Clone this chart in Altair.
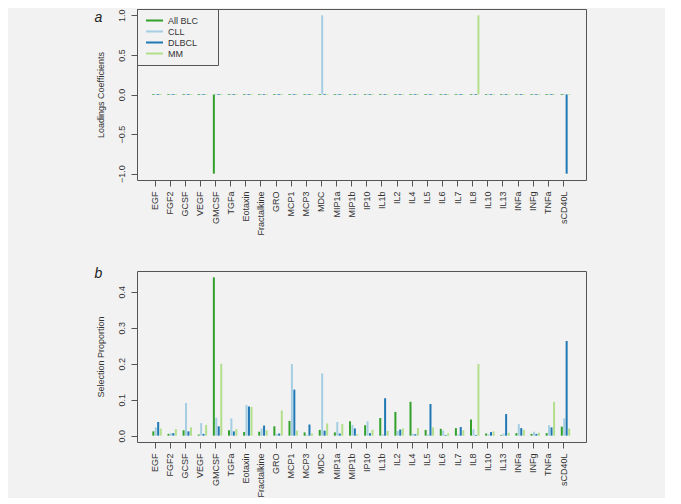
import altair as alt
import pandas as pd

categories = ["EGF", "FGF2", "GCSF", "VEGF", "GMCSF", "TGFa", "Eotaxin", "Fractalkine",
              "GRO", "MCP1", "MCP3", "MDC", "MIP1a", "MIP1b", "IP10", "IL1b", "IL2",
              "IL4", "IL5", "IL6", "IL7", "IL8", "IL10", "IL13", "INFa", "INFg",
              "TNFa", "sCD40L"]
series = ["All BLC", "CLL", "DLBCL", "MM"]

# Panel a: loadings coefficients
load_allblc = [0, 0, 0, 0, -1, 0, 0, 0, 0, 0, 0, 0, 0, 0, 0, 0, 0, 0, 0, 0, 0, 0, 0, 0, 0, 0, 0, 0]
load_cll    = [0, 0, 0, 0, 0, 0, 0, 0, 0, 0, 0, 1, 0, 0, 0, 0, 0, 0, 0, 0, 0, 0, 0, 0, 0, 0, 0, 0]
load_dlbcl  = [0, 0, 0, 0, 0, 0, 0, 0, 0, 0, 0, 0, 0, 0, 0, 0, 0, 0, 0, 0, 0, 0, 0, 0, 0, 0, 0, -1]
load_mm     = [0, 0, 0, 0, 0, 0, 0, 0, 0, 0, 0, 0, 0, 0, 0, 0, 0, 0, 0, 0, 0, 1, 0, 0, 0, 0, 0, 0]

# Panel b: selection proportion
sel_allblc = [0.012, 0.005, 0.015, 0.003, 0.440, 0.015, 0.010, 0.011, 0.026, 0.041, 0.009, 0.016,
              0.009, 0.040, 0.029, 0.049, 0.066, 0.094, 0.016, 0.019, 0.021, 0.045, 0.006, 0.002,
              0.007, 0.005, 0.007, 0.025]
sel_cll    = [0.023, 0.007, 0.091, 0.035, 0.050, 0.048, 0.085, 0.020, 0.005, 0.199, 0.002, 0.173,
              0.038, 0.030, 0.040, 0.004, 0.013, 0.005, 0.003, 0.014, 0.004, 0.018, 0.004, 0.006,
              0.032, 0.011, 0.029, 0.048]
sel_dlbcl  = [0.038, 0.007, 0.012, 0.005, 0.026, 0.012, 0.081, 0.028, 0.006, 0.128, 0.031, 0.014,
              0.006, 0.020, 0.007, 0.104, 0.017, 0.004, 0.088, 0.002, 0.024, 0.002, 0.010, 0.060,
              0.021, 0.005, 0.023, 0.263]
sel_mm     = [0.020, 0.018, 0.023, 0.030, 0.200, 0.018, 0.080, 0.015, 0.070, 0.014, 0.006, 0.034,
              0.032, 0.004, 0.016, 0.013, 0.020, 0.021, 0.023, 0.007, 0.015, 0.199, 0.012, 0.008,
              0.016, 0.008, 0.094, 0.020]

colors = ["#33a02c", "#a6cee3", "#1f78b4", "#b2df8a"]
offsets = {"All BLC": -0.08, "CLL": 0.08, "DLBCL": 0.24, "MM": 0.41}

def long_frame(cols):
    rows = []
    for s, vals in zip(series, cols):
        for i, (c, v) in enumerate(zip(categories, vals)):
            rows.append({"cat": c, "idx": i, "pos": i + offsets[s], "series": s,
                         "value": v, "base": 0.0})
    return pd.DataFrame(rows)

df_a = long_frame([load_allblc, load_cll, load_dlbcl, load_mm])
df_b = long_frame([sel_allblc, sel_cll, sel_dlbcl, sel_mm])

FONT = "Liberation Sans"
TXT = "#333333"
W = 449

label_expr = "[" + ",".join('"%s"' % c for c in categories) + "][datum.value]"

x_axis = alt.Axis(values=list(range(len(categories))), labelExpr=label_expr, labelAngle=-90,
                  labelAlign="right", labelBaseline="middle", title=None, grid=False,
                  domain=False, tickSize=6, labelPadding=5, labelFontSize=9,
                  labelFont=FONT, labelColor=TXT, tickColor="#555555")
x_scale = alt.Scale(domain=[-1.16, 28.52], nice=False, zero=False)

color_scale = alt.Scale(domain=series, range=colors)

def y_axis(title, vals):
    return alt.Axis(values=vals, format=".1f", title=title, grid=False, domain=False,
                    tickSize=6, labelAngle=-90, labelAlign="center", labelBaseline="bottom",
                    labelPadding=4.5, labelFontSize=9, labelFont=FONT, labelColor=TXT,
                    titleFont=FONT, titleFontSize=9, titleFontWeight="normal",
                    titleColor=TXT, titlePadding=12, tickColor="#555555")

ya = alt.Y("value:Q", scale=alt.Scale(domain=[-1.08, 1.08], nice=False),
           axis=y_axis("Loadings Coefficients", [-1.0, -0.5, 0.0, 0.5, 1.0]))
xa = alt.X("pos:Q", scale=x_scale, axis=x_axis)

legend = alt.Legend(title="\u2003\u2003", titleOrient="right", titleFontSize=9,
                    titlePadding=14, titleFont=FONT,
                    orient="none", legendX=0, legendY=0,
                    symbolType="M-1.95,0H1.95", symbolSize=76, symbolStrokeWidth=2,
                    symbolOffset=6, labelOffset=8,
                    labelFont=FONT, labelFontSize=9, labelColor=TXT,
                    strokeColor="#555555", fillColor="#f2f2f2", padding=6,
                    rowPadding=0, labelLimit=300)

bars_a = alt.Chart(df_a).transform_filter("datum.value != 0").mark_rule(strokeWidth=2).encode(
    x=xa, y=ya, y2="base:Q",
    color=alt.Color("series:N", scale=color_scale, legend=legend),
)
zeros_a = alt.Chart(df_a).transform_filter("datum.value == 0").mark_tick(
    orient="horizontal", size=2.5, thickness=1).encode(
    x=xa, y=ya,
    color=alt.Color("series:N", scale=color_scale, legend=None),
)

panel_a = alt.layer(bars_a, zeros_a).properties(
    width=W, height=171,
    title=alt.TitleParams("a", anchor="start", fontStyle="italic", fontWeight="normal",
                          fontSize=14, font=FONT, color="#222222", dy=20, dx=-2),
)

yb = alt.Y("value:Q", scale=alt.Scale(domain=[-0.0176, 0.4576], nice=False),
           axis=y_axis("Selection Proportion", [0.0, 0.1, 0.2, 0.3, 0.4]))
bars_b = alt.Chart(df_b).mark_rule(strokeWidth=2).encode(
    x=xa, y=yb, y2="base:Q",
    color=alt.Color("series:N", scale=color_scale, legend=None),
)
panel_b = bars_b.properties(
    width=W, height=171,
    title=alt.TitleParams("b", anchor="start", fontStyle="italic", fontWeight="normal",
                          fontSize=14, font=FONT, color="#222222", dy=14, dx=-2),
)

chart = alt.vconcat(panel_a, panel_b, spacing=91, bounds="flush").properties(
    padding={"left": 85, "top": 0, "right": 78, "bottom": 0},
    background="#f2f2f2",
).configure_view(stroke="#555555", strokeWidth=1).configure_title(offset=0)

chart.save("out.html", embed_options={"renderer": "svg", "actions": False})
